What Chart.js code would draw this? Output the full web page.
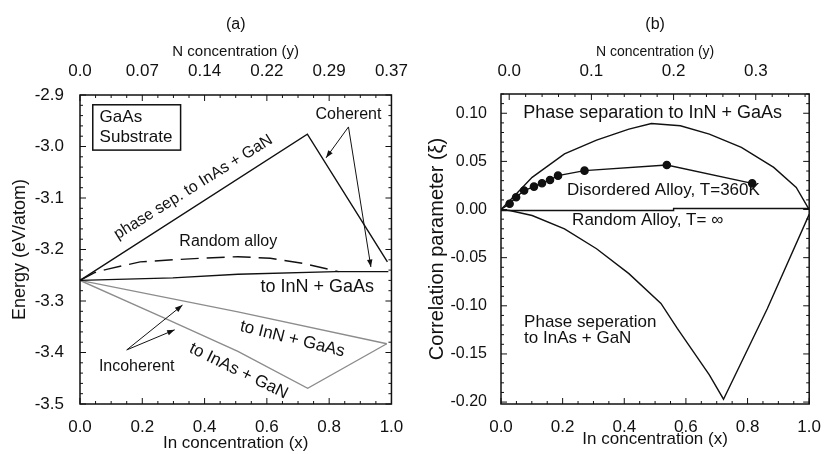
<!DOCTYPE html>
<html>
<head>
<meta charset="utf-8">
<script src="https://cdn.jsdelivr.net/npm/chart.js@4.4.0/dist/chart.umd.min.js"></script>
<style>
  html, body { margin: 0; padding: 0; background: #fff; }
  #wrap { position: relative; width: 826px; height: 454px; }
  .panel { position: absolute; top: 0; width: 413px; height: 454px; }
</style>
</head>
<body>
<div id="wrap">
  <div class="panel" style="left:0"><canvas id="chartA" width="413" height="454"></canvas></div>
  <div class="panel" style="left:413px"><canvas id="chartB" width="413" height="454"></canvas></div>
</div>
<script>
// ---- panel (a): energy vs In concentration ----
var inTicks = [0, 0.2, 0.4, 0.6, 0.8, 1.0];
var nLabelsA = ['0.0', '0.07', '0.14', '0.22', '0.29', '0.37'];
var energyTicks = [-3.5, -3.4, -3.3, -3.2, -3.1, -3.0, -2.9];

var cohSepX = [0, 0.73, 0.987];
var cohSepY = [-3.26, -2.976, -3.224];
var cohInNX = [0, 0.298, 0.507, 0.82, 0.99];
var cohInNY = [-3.26, -3.255, -3.248, -3.243, -3.243];
var randomX = [0, 0.047, 0.089, 0.193, 0.298, 0.402, 0.507, 0.611, 0.716, 0.81, 0.83];
var randomY = [-3.26, -3.245, -3.238, -3.224, -3.22, -3.2165, -3.214, -3.217, -3.227, -3.24, -3.243];
var incInNX = [0, 0.507, 0.985];
var incInNY = [-3.26, -3.321, -3.383];
var incInAsX = [0, 0.266, 0.507, 0.731, 0.985];
var incInAsY = [-3.26, -3.332, -3.398, -3.4695, -3.383];

// ---- panel (b): correlation parameter ----
var nTicksB = [0, 0.1, 0.2, 0.3];
var xiTicks = [-0.2, -0.15, -0.1, -0.05, 0, 0.05, 0.1];

var sepInNX = [0, 0.05, 0.101, 0.206, 0.31, 0.415, 0.488, 0.582, 0.676, 0.78, 0.885, 0.958, 1.0];
var sepInNY = [0, 0.0165, 0.0334, 0.0577, 0.0721, 0.0835, 0.0893, 0.087, 0.0784, 0.0645, 0.0438, 0.023, 0];
var disX = [0, 0.028, 0.049, 0.075, 0.107, 0.133, 0.159, 0.185, 0.271, 0.538, 0.815];
var disY = [0, 0.006, 0.0127, 0.0197, 0.0238, 0.0273, 0.0307, 0.0352, 0.0404, 0.0463, 0.0272];
var randBX = [0, 0.56, 0.56, 1.0];
var randBY = [-0.001, -0.001, 0.001, 0.001];
var sepInAsX = [0, 0.028, 0.101, 0.206, 0.31, 0.415, 0.519, 0.572, 0.624, 0.676, 0.722, 0.864, 1.0];
var sepInAsY = [0, -0.001, -0.0062, -0.02, -0.0407, -0.0666, -0.0976, -0.1235, -0.1477, -0.1718, -0.197, -0.103, -0.005];

var FONT = '"Liberation Sans", Arial, Helvetica, sans-serif';
var INK = '#111';
var GRAY = '#8c8c8c';

function pts(xs, ys) {
    return xs.map(function (x, i) { return { x: x, y: ys[i] }; });
}

function line(xs, ys, color, dash) {
    return {
        data: pts(xs, ys),
        showLine: true,
        borderColor: color,
        backgroundColor: color,
        borderWidth: 1.4,
        borderDash: dash || [],
        pointRadius: 0,
        tension: 0
    };
}

function setTicks(values) {
    return function (s) { s.ticks = values.map(function (v) { return { value: v }; }); };
}

// frame round the plot plus inward major/minor ticks
var framePlugin = {
    id: 'frameTicks',
    afterDraw: function (chart, args, opts) {
        var ctx = chart.ctx, a = chart.chartArea;
        ctx.save();
        ctx.strokeStyle = INK;
        ctx.lineWidth = 1;
        var minor = opts.minor || {};
        Object.keys(minor).forEach(function (id) {
            var s = chart.scales[id];
            var step = minor[id];
            var majors = s.ticks.map(function (t) { return t.value; });
            var start = Math.ceil((s.min - 1e-9) / step);
            var end = Math.floor((s.max + 1e-9) / step);
            for (var k = start; k <= end; k++) {
                var v = k * step;
                var isMajor = majors.some(function (m) { return Math.abs(m - v) < step / 10; });
                var len = isMajor ? 6 : 3;
                var p = s.getPixelForValue(v);
                ctx.beginPath();
                if (s.isHorizontal()) {
                    if (s.position === 'top') { ctx.moveTo(p, a.top); ctx.lineTo(p, a.top + len); }
                    else { ctx.moveTo(p, a.bottom); ctx.lineTo(p, a.bottom - len); }
                } else {
                    ctx.moveTo(a.left, p); ctx.lineTo(a.left + len, p);
                    ctx.moveTo(a.right, p); ctx.lineTo(a.right - len, p);
                }
                ctx.stroke();
            }
        });
        ctx.lineWidth = 1.5;
        ctx.strokeRect(a.left, a.top, a.right - a.left, a.bottom - a.top);
        ctx.restore();
    }
};

// labels, boxes and arrows placed in data units
var notesPlugin = {
    id: 'notes',
    afterDatasetsDraw: function (chart, args, opts) {
        var ctx = chart.ctx, xs = chart.scales.x, ys = chart.scales.y;
        ctx.save();
        ctx.strokeStyle = INK;
        ctx.fillStyle = INK;
        (opts.boxes || []).forEach(function (b) {
            var x0 = xs.getPixelForValue(b.x0), x1 = xs.getPixelForValue(b.x1);
            var y0 = ys.getPixelForValue(b.y0), y1 = ys.getPixelForValue(b.y1);
            ctx.lineWidth = 1.5;
            ctx.strokeRect(x0, y0, x1 - x0, y1 - y0);
        });
        (opts.arrows || []).forEach(function (r) {
            var tx = xs.getPixelForValue(r.from[0]), ty = ys.getPixelForValue(r.from[1]);
            var hx = xs.getPixelForValue(r.to[0]), hy = ys.getPixelForValue(r.to[1]);
            ctx.lineWidth = 1;
            ctx.beginPath(); ctx.moveTo(tx, ty); ctx.lineTo(hx, hy); ctx.stroke();
            var ang = Math.atan2(hy - ty, hx - tx);
            ctx.beginPath();
            ctx.moveTo(hx, hy);
            ctx.lineTo(hx - 8 * Math.cos(ang - 0.35), hy - 8 * Math.sin(ang - 0.35));
            ctx.lineTo(hx - 8 * Math.cos(ang + 0.35), hy - 8 * Math.sin(ang + 0.35));
            ctx.closePath();
            ctx.fill();
        });
        (opts.texts || []).forEach(function (t) {
            ctx.save();
            ctx.translate(xs.getPixelForValue(t.x), ys.getPixelForValue(t.y));
            ctx.rotate((t.rot || 0) * Math.PI / 180);
            ctx.font = t.size + 'px ' + FONT;
            ctx.textAlign = t.align || 'center';
            ctx.textBaseline = 'middle';
            ctx.fillText(t.text, 0, 0);
            ctx.restore();
        });
        ctx.restore();
    }
};

function tickFont(size) { return { size: size, family: FONT }; }

// Panel (a)
new Chart(document.getElementById('chartA'), {
    type: 'scatter',
    data: {
        datasets: [
            line(cohSepX, cohSepY, INK),
            line(cohInNX, cohInNY, INK),
            line(randomX, randomY, INK, [18, 8]),
            line(incInNX, incInNY, GRAY),
            line(incInAsX, incInAsY, GRAY)
        ]
    },
    options: {
        responsive: false,
        animation: false,
        layout: { padding: { left: 0, right: 14, top: 0, bottom: 0 } },
        plugins: {
            legend: { display: false },
            tooltip: { enabled: false },
            title: {
                display: true, text: '(a)', fullSize: false, color: INK,
                font: { size: 16, family: FONT, weight: 'normal' },
                padding: { top: 15, bottom: 0 }
            },
            frameTicks: { minor: { x: 0.05, x2: 0.05, y: 0.02 } },
            notes: {
                boxes: [{ x0: 0.041, x1: 0.323, y0: -2.919, y1: -3.007 }],
                arrows: [
                    { from: [0.862, -2.962], to: [0.79, -3.022] },
                    { from: [0.862, -2.962], to: [0.934, -3.234] },
                    { from: [0.15, -3.395], to: [0.329, -3.308] },
                    { from: [0.15, -3.395], to: [0.304, -3.356] }
                ],
                texts: [
                    { text: 'GaAs', x: 0.063, y: -2.943, size: 17, align: 'left' },
                    { text: 'Substrate', x: 0.063, y: -2.982, size: 17, align: 'left' },
                    { text: 'Coherent', x: 0.862, y: -2.939, size: 16 },
                    { text: 'phase sep. to InAs + GaN', x: 0.364, y: -3.079, size: 16, rot: -32 },
                    { text: 'Random alloy', x: 0.476, y: -3.185, size: 16 },
                    { text: 'to InN + GaAs', x: 0.762, y: -3.273, size: 18 },
                    { text: 'to InN + GaAs', x: 0.682, y: -3.374, size: 17, rot: 14 },
                    { text: 'to InAs + GaN', x: 0.509, y: -3.436, size: 17, rot: 26 },
                    { text: 'Incoherent', x: 0.182, y: -3.428, size: 16 }
                ]
            }
        },
        scales: {
            x: {
                type: 'linear', position: 'bottom', min: 0, max: 1,
                afterBuildTicks: setTicks(inTicks),
                afterFit: function (s) { s.height = 50; },
                grid: { display: false }, border: { display: false },
                ticks: { callback: function (v) { return v.toFixed(1); }, font: tickFont(17), color: INK, padding: 5, maxRotation: 0, autoSkip: false },
                title: { display: true, text: 'In concentration (x)', color: INK, font: tickFont(17), padding: { top: 0, bottom: 0 } }
            },
            x2: {
                type: 'linear', position: 'top', min: 0, max: 1,
                afterBuildTicks: setTicks(inTicks),
                afterFit: function (s) { s.height = 60.8; },
                grid: { display: false }, border: { display: false },
                ticks: { callback: function (v, i) { return nLabelsA[i]; }, font: tickFont(17), color: INK, padding: 5, maxRotation: 0, autoSkip: false },
                title: { display: true, text: 'N concentration (y)', color: INK, font: tickFont(15), padding: { top: 8.8, bottom: 0 } }
            },
            y: {
                type: 'linear', position: 'left', min: -3.5, max: -2.9,
                afterBuildTicks: setTicks(energyTicks),
                afterFit: function (s) { s.width = 80; },
                grid: { display: false }, border: { display: false },
                ticks: { callback: function (v) { return v.toFixed(1); }, font: tickFont(17), color: INK, padding: 8, autoSkip: false },
                title: { display: true, text: 'Energy (eV/atom)', color: INK, font: tickFont(18), padding: { top: 9, bottom: 0 } }
            }
        }
    },
    plugins: [framePlugin, notesPlugin]
});

// Panel (b)
var disDs = line(disX, disY, INK);
disDs.pointRadius = function (c) { return c.dataIndex === 0 ? 0 : 3.6; };
disDs.pointBackgroundColor = INK;
disDs.pointBorderColor = INK;

new Chart(document.getElementById('chartB'), {
    type: 'scatter',
    data: {
        datasets: [
            line(sepInNX, sepInNY, INK),
            disDs,
            line(randBX, randBY, INK),
            line(sepInAsX, sepInAsY, INK)
        ]
    },
    options: {
        responsive: false,
        animation: false,
        layout: { padding: { left: 0, right: 6, top: 0, bottom: 0 } },
        plugins: {
            legend: { display: false },
            tooltip: { enabled: false },
            title: {
                display: true, text: '(b)', fullSize: false, color: INK,
                font: { size: 16, family: FONT, weight: 'normal' },
                padding: { top: 15, bottom: 0 }
            },
            frameTicks: { minor: { x: 0.05, x2: 0.02, y: 0.01 } },
            notes: {
                texts: [
                    { text: 'Phase separation to InN + GaAs', x: 0.492, y: 0.1004, size: 18 },
                    { text: 'Disordered Alloy, T=360K', x: 0.527, y: 0.0197, size: 17 },
                    { text: 'Random Alloy, T= \u221E', x: 0.476, y: -0.0114, size: 17 },
                    { text: 'Phase seperation', x: 0.075, y: -0.117, size: 17, align: 'left' },
                    { text: 'to InAs + GaN', x: 0.075, y: -0.1335, size: 17, align: 'left' }
                ]
            }
        },
        scales: {
            x: {
                type: 'linear', position: 'bottom', min: 0, max: 1,
                afterBuildTicks: setTicks(inTicks),
                afterFit: function (s) { s.height = 50; },
                grid: { display: false }, border: { display: false },
                ticks: { callback: function (v) { return v.toFixed(1); }, font: tickFont(17), color: INK, padding: 5, maxRotation: 0, autoSkip: false },
                title: { display: true, text: 'In concentration (x)', color: INK, font: tickFont(17), padding: { top: 0, bottom: 4 } }
            },
            x2: {
                type: 'linear', position: 'top', min: -0.01, max: 0.365,
                afterBuildTicks: setTicks(nTicksB),
                afterFit: function (s) { s.height = 59.8; },
                grid: { display: false }, border: { display: false },
                ticks: { callback: function (v) { return v.toFixed(1); }, font: tickFont(17), color: INK, padding: 4, maxRotation: 0, autoSkip: false },
                title: { display: true, text: 'N concentration (y)', color: INK, font: tickFont(14), padding: { top: 9.4, bottom: 0 } }
            },
            y: {
                type: 'linear', position: 'left', min: -0.202, max: 0.12,
                afterBuildTicks: setTicks(xiTicks),
                afterFit: function (s) { s.width = 88; },
                grid: { display: false }, border: { display: false },
                ticks: { callback: function (v) { return v.toFixed(2); }, font: tickFont(16), color: INK, padding: 6, autoSkip: false },
                title: { display: true, text: 'Correlation parameter (\u03BE)', color: INK, font: tickFont(20), padding: { top: 12, bottom: 0 } }
            }
        }
    },
    plugins: [framePlugin, notesPlugin]
});
</script>
</body>
</html>
